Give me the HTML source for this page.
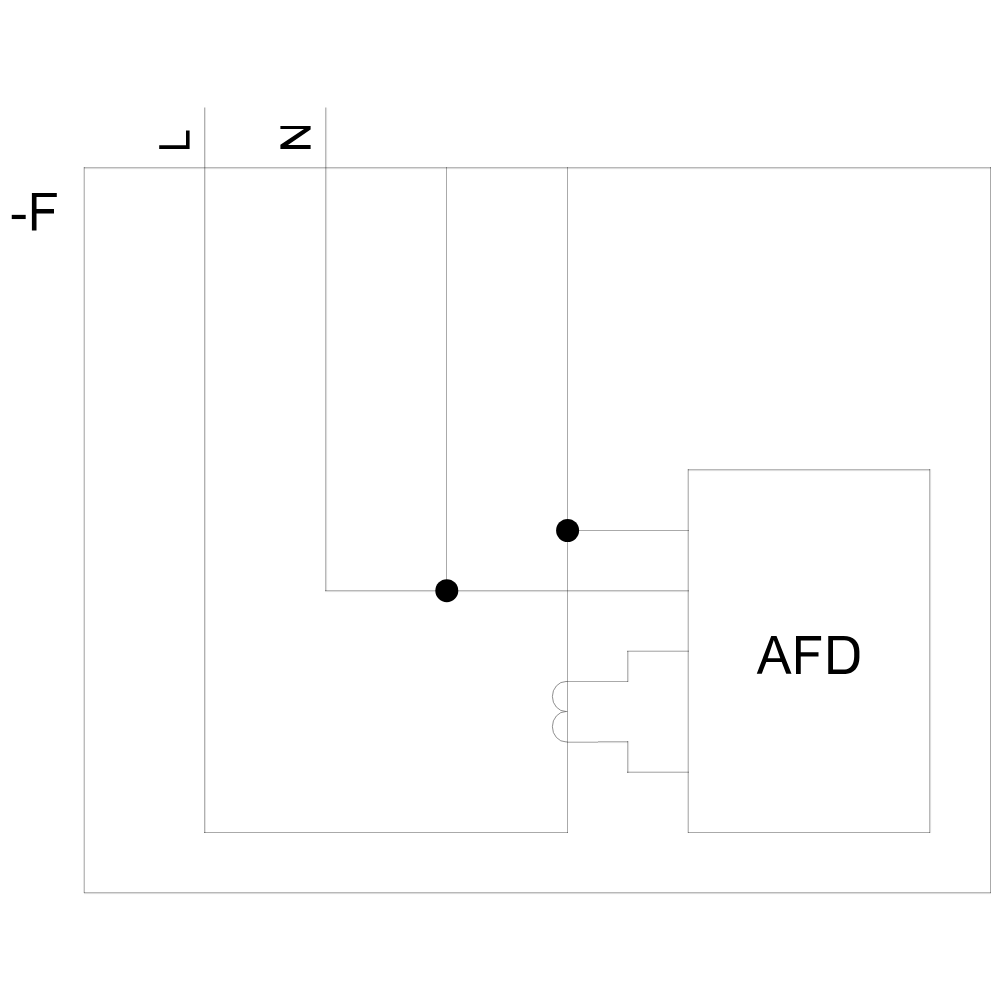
<!DOCTYPE html>
<html>
<head>
<meta charset="utf-8">
<title>-F AFD</title>
<style>
html,body{margin:0;padding:0;background:#fff;width:1000px;height:1000px;overflow:hidden;}
svg{position:absolute;left:0;top:0;display:block;}
.tl text{font-family:"Liberation Sans",sans-serif;fill:#000;fill-opacity:0;}
</style>
</head>
<body>
<svg width="1000" height="1000" viewBox="0 0 1000 1000">
<!-- wiring: thin grey lines (pixel aligned, soft anti-aliased edges) -->
<g shape-rendering="crispEdges" fill="#000">
  <rect x="83" y="167" width="1" height="726" fill-opacity="0.114"/>
  <rect x="205" y="108" width="1" height="725" fill-opacity="0.114"/>
  <rect x="326" y="108" width="1" height="483" fill-opacity="0.137"/>
  <rect x="327" y="108" width="1" height="483" fill-opacity="0.012"/>
  <rect x="205" y="107" width="1" height="1" fill-opacity="0.059"/>
  <rect x="326" y="107" width="1" height="1" fill-opacity="0.067"/>
  <rect x="628" y="651" width="1" height="31" fill-opacity="0.137"/>
  <rect x="629" y="651" width="1" height="31" fill-opacity="0.012"/>
  <rect x="628" y="741" width="1" height="32" fill-opacity="0.137"/>
  <rect x="629" y="741" width="1" height="32" fill-opacity="0.012"/>
  <rect x="687" y="469" width="1" height="364" fill-opacity="0.114"/>
  <rect x="930" y="469" width="1" height="364" fill-opacity="0.137"/>
  <rect x="931" y="469" width="1" height="364" fill-opacity="0.012"/>
  <rect x="84" y="168" width="907" height="1" fill-opacity="0.137"/>
  <rect x="84" y="169" width="907" height="1" fill-opacity="0.012"/>
  <rect x="688" y="470" width="242" height="1" fill-opacity="0.137"/>
  <rect x="688" y="471" width="242" height="1" fill-opacity="0.012"/>
  <rect x="325" y="591" width="364" height="1" fill-opacity="0.137"/>
  <rect x="325" y="592" width="364" height="1" fill-opacity="0.012"/>
  <rect x="627" y="650" width="62" height="1" fill-opacity="0.114"/>
  <rect x="567" y="741" width="31" height="1" fill-opacity="0.114"/>
  <rect x="598" y="742" width="30" height="1" fill-opacity="0.137"/>
  <rect x="598" y="743" width="30" height="1" fill-opacity="0.012"/>
  <rect x="627" y="771" width="62" height="1" fill-opacity="0.114"/>
  <rect x="84" y="893" width="907" height="1" fill-opacity="0.137"/>
  <rect x="84" y="894" width="907" height="1" fill-opacity="0.012"/>
  <rect x="84" y="167" width="1" height="726" fill-opacity="0.267"/>
  <rect x="204" y="108" width="1" height="725" fill-opacity="0.31"/>
  <rect x="325" y="108" width="1" height="483" fill-opacity="0.278"/>
  <rect x="204" y="107" width="1" height="1" fill-opacity="0.153"/>
  <rect x="325" y="107" width="1" height="1" fill-opacity="0.137"/>
  <rect x="446" y="167" width="1" height="424" fill-opacity="0.333"/>
  <rect x="567" y="167" width="1" height="666" fill-opacity="0.333"/>
  <rect x="627" y="651" width="1" height="31" fill-opacity="0.278"/>
  <rect x="627" y="741" width="1" height="32" fill-opacity="0.278"/>
  <rect x="688" y="469" width="1" height="364" fill-opacity="0.267"/>
  <rect x="929" y="469" width="1" height="364" fill-opacity="0.278"/>
  <rect x="990" y="167" width="1" height="726" fill-opacity="0.333"/>
  <rect x="84" y="167" width="907" height="1" fill-opacity="0.278"/>
  <rect x="688" y="469" width="242" height="1" fill-opacity="0.278"/>
  <rect x="567" y="530" width="122" height="1" fill-opacity="0.333"/>
  <rect x="325" y="590" width="364" height="1" fill-opacity="0.278"/>
  <rect x="627" y="651" width="62" height="1" fill-opacity="0.267"/>
  <rect x="567" y="681" width="61" height="1" fill-opacity="0.333"/>
  <rect x="567" y="742" width="31" height="1" fill-opacity="0.267"/>
  <rect x="598" y="741" width="30" height="1" fill-opacity="0.278"/>
  <rect x="627" y="772" width="62" height="1" fill-opacity="0.267"/>
  <rect x="204" y="832" width="364" height="1" fill-opacity="0.333"/>
  <rect x="688" y="832" width="242" height="1" fill-opacity="0.333"/>
  <rect x="84" y="892" width="907" height="1" fill-opacity="0.278"/>
</g>
<!-- current transformer coil -->
<path d="M567.5,681.5H566A13.6,15 0 0 0 566,711.5H567.5M566,711.5A13.6,15.2 0 0 0 566,741.9H567.5" fill="none" stroke="#6a6a6a" stroke-width="0.75"/>
<!-- junction dots -->
<g fill="#000">
  <circle cx="567.6" cy="530.5" r="11.5"/>
  <circle cx="446.8" cy="590.7" r="11.5"/>
</g>
<!-- glyph outlines -->
<g fill="#000" fill-rule="evenodd">
  <path d="M11.75,214.85H25.7V219.05H11.75Z"/>
  <path d="M31.9,193.05H56.8V196.9H36.5V209.1H54V213.4H36.5V230.5H31.9Z"/>
  <path d="M159.2,145.2H186V130.4H189.6V149H159.2Z"/>
  <path d="M280.4,125.9H310.6V129.6L288,145.1H310.6V149H280.4V144.8L304,129.1H280.4Z"/>
  <path d="M771.25,636H776.5L791.5,673.75H786.25L781.7,662H766.3L761.75,673.75H756.75Z M773.8,640L780.3,658.25H767.7Z"/>
  <path d="M796,636H821.1V640.5H800.75V652.25H818.5V656.5H800.75V673.9H796Z"/>
  <path d="M828.25,636H843.5C853.5,636 859.4,641.5 859.4,651.5V657.5C859.4,667.5 853.5,673.9 845.5,673.9H828.25Z M833,640.25H844.5C850.5,640.25 854.2,645 854.2,652.5V656.5C854.2,664.5 850,669.5 845,669.5H833Z"/>
</g>
<!-- transparent text layer -->
<g class="tl">
  <text x="10" y="231" font-size="54">-F</text>
  <text x="756" y="673" font-size="54">AFD</text>
  <text transform="translate(190,153) rotate(-90)" font-size="44">L</text>
  <text transform="translate(311,153) rotate(-90)" font-size="44">N</text>
</g>
</svg>
</body>
</html>
